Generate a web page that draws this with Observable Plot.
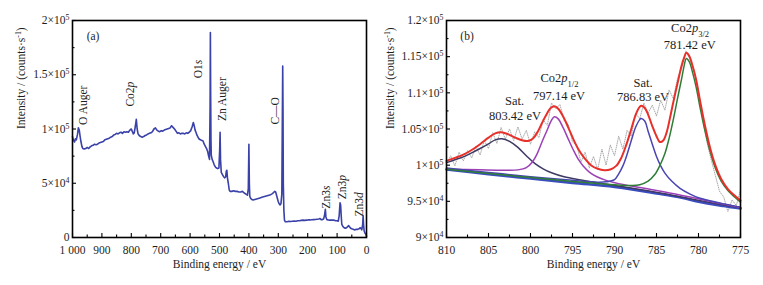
<!DOCTYPE html>
<html><head><meta charset="utf-8">
<script src="https://cdn.jsdelivr.net/npm/d3@7"></script>
<script src="https://cdn.jsdelivr.net/npm/@observablehq/plot@0.6"></script>
<style>
body{margin:0;background:#fff;}
#wrap{position:relative;width:763px;height:285px;background:#fff;overflow:hidden;}
#wrap svg{position:absolute;top:0;}
</style></head><body><div id="wrap"></div>
<script>
// ---------- Panel (a): survey spectrum ----------
const surveyBE = [1000,997,993,990,987,983,980,977,974,971,968,965,960,955,950,945,940,935,930,925,920,915,910,905,900,895,890,885,880,875,870,865,860,855,850,845,840,835,830,825,820,815,810,805,800,797,793,790,786,783,780,777,773,768,763,758,753,748,743,738,733,728,723,718,713,708,703,698,693,688,683,678,673,668,663,658,653,648,643,638,633,628,623,618,613,608,603,598,593,589,586,583,580,577,574,570,565,560,556,552,548,544,540,537,534,532,531,530,529,528,525,522,518,514,510,506,502,499.5,498,496.5,494,490,486,482,479,477,475,473,470,467,464,458,452,446,440,434,428,422,416,410,405,402,400,398.5,397,394,390,386,380,374,368,362,356,350,344,338,332,326,320,316,312,309,306,303,300,297,294,291,288,286.5,285,284,283,281,279,276,270,264,258,252,246,240,234,228,222,216,210,204,198,192,186,180,174,168,162,158,155,150,146,143,140,138,135,130,125,120,115,110,105,100,96,93,90,88,86,84,80,76,72,68,64,61,58,54,50,45,40,35,30,25,22,19,16,13,11.5,10,8,5,2,0];
const surveyI = [93000,90000,88000,91000,90000,95000,101000,99000,93000,88000,84000,82000,81500,82000,83000,82000,83500,84500,85000,86000,85500,86000,87000,87500,88000,88500,90000,90500,91000,91500,92500,93000,94500,95000,96000,95500,96500,97000,96000,97500,97000,97500,97000,99000,100000,98000,95500,96500,103000,109000,100000,95500,94000,93000,92500,93000,94000,94500,95500,96000,96500,97500,100000,101000,99000,98000,97500,98500,98000,99000,99500,100000,100500,101000,103000,101500,100000,98000,96000,96500,95500,96000,96000,95500,96500,96000,97000,98500,102000,106000,103000,99000,97000,94500,93000,91000,90000,89500,89000,86000,84000,82000,79000,75000,72000,120000,189000,130000,90000,76000,72000,70000,67000,65000,64000,63500,64000,80000,97000,72000,60000,58000,56000,55000,56000,61000,62000,55000,50000,44000,42500,42500,43000,42500,42500,42000,42000,42500,41000,40000,39000,45000,86000,50000,38000,36000,35000,34500,35000,35500,36000,36500,37000,37500,38000,38500,39000,39500,40500,41500,42500,42000,39000,36000,33000,31000,30000,31000,40000,100000,158000,120000,50000,25000,16000,14500,14500,15000,14800,15000,15200,15000,15500,15500,15800,16000,15800,16000,16200,16200,16400,16500,16600,16800,17000,17500,16500,16500,17000,20000,26000,19000,16500,16200,16000,16200,16000,16000,15500,15500,15000,20000,32000,30000,20000,12000,10000,9000,8500,9000,10000,11000,10000,8500,8000,7500,7000,7500,7500,8000,9000,8500,7000,12000,20000,12000,6000,4000,3000,1000];
const aXTicks = [1000,900,800,700,600,500,400,300,200,100,0];
const aXTickLabels = ["1 000","900","800","700","600","500","400","300","200","100","0"];
const aXMinor = [950,850,750,650,550,450,350,250,150,50];
const aYTicks = [0,50000,100000,150000,200000];
const aYTickLabels = ["0","5×10^{4}","1×10^{5}","1.5×10^{5}","2×10^{5}"];
const aYMinor = [25000,75000,125000,175000];
const aLabels = ["O Auger","Co2*p*","O1*s*","Zn Auger","C—O","Zn3*s*","Zn3*p*","Zn3*d*"];
const aLabelBE = [963,803,571,490,309.5,136,81.6,23.8];
const aLabelI = [121900,132100,155200,127500,116700,37200,46500,30500];

// ---------- Panel (b): Co2p high-resolution ----------
const rawBE = [810,809.5,809,808.5,808,807.5,807,806.5,806,805.5,805,804.5,804,803.5,803,802.5,802,801.5,801,800.5,800,799.5,799,798.5,798,797.5,797,796.5,796,795.5,795,794.5,794,793.5,793,792.5,792,791.5,791,790.5,790,789.5,789,788.5,788,787.5,787,786.5,786,785.5,785,784.5,784,783.5,783,782.5,782,781.5,781,780.5,780,779.5,779,778.5,778,777.5,777,776.5,776,775.5,775];
const rawI = [100200,101300,99900,101800,100600,102000,101000,102600,101400,103400,102300,104500,103000,105200,103600,105000,103400,105300,103600,104800,102900,104600,103800,106300,105500,108600,107800,108400,106200,105600,103200,102800,100400,101800,99600,101200,99400,102200,100000,102800,101300,104000,102200,104800,104000,107200,106400,108600,107200,108300,106800,109000,107600,110400,109200,112000,113400,115800,114600,113000,110200,106400,103200,100800,98600,96400,95600,93600,95200,94400,96600];
const background = [[810,99400],[805,98750],[800,98150],[795,97550],[790,97000],[785,96100],[782,95500],[780,94950],[777,94350],[775,94000]];
const satHigh = [[810,100350],[809,100750],[808,101150],[807,101700],[806,102300],[805,102950],[804.2,103500],[803.4,103650],[802.5,103300],[801.5,102450],[800.5,101300],[799.5,100250],[798.5,99500],[797.5,98950],[796,98400],[794,97950],[792,97550],[790,97200],[787,96650],[784,96050],[781,95350],[778,94700],[775,94100]];
const p12 = [[810,99450],[806,99350],[803,99300],[801.5,99350],[800.5,99650],[799.8,100400],[799.2,101600],[798.6,103300],[798,104900],[797.6,106000],[797.15,106700],[796.7,106400],[796.1,105150],[795.5,103600],[794.9,102100],[794.3,100800],[793.7,99850],[793,99050],[792.1,98400],[791,97900],[789.5,97450],[787,96900],[784,96300],[781,95600],[778,94850],[775,94150]];
const satLow = [[810,99600],[805,99000],[800,98400],[795,97900],[792,97650],[791,97700],[790,98000],[789.5,98800],[789,99900],[788.5,101500],[788,103400],[787.5,105200],[787,106300],[786.85,106450],[786.4,106100],[786,104700],[785.5,102900],[785,101200],[784.5,99900],[784,98900],[783.2,97800],[782.2,96800],[781,96000],[780,95500],[778.5,95050],[777,94650],[775,94200]];
const p32 = [[810,99450],[805,98850],[800,98300],[795,97750],[790,97300],[788,97200],[787,97300],[786,97800],[785.2,98700],[784.5,100200],[784,101600],[783.5,103700],[783,106300],[782.5,109200],[782,112000],[781.7,113800],[781.45,114750],[781.1,114300],[780.7,112800],[780.3,110900],[779.8,107900],[779.2,104600],[778.6,101800],[778,99600],[777.3,97800],[776.5,96500],[775.7,95600],[775,94900]];
const envelope = [[810,100600],[809,101000],[808,101450],[807,102100],[806,102900],[805,103800],[804.2,104400],[803.5,104550],[802.7,104300],[801.8,103800],[800.9,103400],[800.3,103350],[799.7,103700],[799.2,104500],[798.6,105900],[798,107200],[797.6,107900],[797.15,108150],[796.7,107800],[796.1,106700],[795.5,105200],[794.9,103600],[794.3,102200],[793.6,101000],[792.8,100000],[792,99500],[791.2,99300],[790.5,99400],[789.8,99900],[789.2,101000],[788.6,102800],[788,105000],[787.5,106900],[787,108050],[786.8,108200],[786.4,107900],[786,107000],[785.5,105400],[785,104000],[784.6,103200],[784.2,103400],[783.8,104500],[783.4,106500],[783,108700],[782.5,111300],[782,113800],[781.7,114900],[781.45,115550],[781.1,115100],[780.7,113700],[780.3,111900],[779.8,108800],[779.2,105300],[778.6,102300],[778,100000],[777.3,98100],[776.5,96700],[775.7,95800],[775,95100]];
const bXTicks = [810,805,800,795,790,785,780,775];
const bXTickLabels = ["810","805","800","795","790","785","780","775"];
const bXMinor = [807.5,802.5,797.5,792.5,787.5,782.5,777.5];
const bYTicks = [90000,95000,100000,105000,110000,115000,120000];
const bYTickLabels = ["9×10^{4}","9.5×10^{4}","1×10^{5}","1.05×10^{5}","1.1×10^{5}","1.15×10^{5}","1.2×10^{5}"];
const bYMinor = [92500,97500,102500,107500,112500,117500];
const bLabels = ["Sat.","803.42 eV","Co2*p*_{1/2}","797.14 eV","Sat.","786.83 eV","Co2*p*_{3/2}","781.42 eV"];
const bLabelBE = [801.9,801.85,796.55,796.6,786.6,786.6,781.0,781.05];
const bLabelI = [108900,106850,112000,109600,111300,109400,118900,116600];

const xTitle = "Binding energy / eV";
const yTitle = "Intensity / (counts·s^{-1})";

// ---------- helpers ----------
const FONT = "Liberation Serif, Times New Roman, serif";
const H = 285, MT = 20, MB = 48;
const innerH = H - MT - MB;
const TXT = {fontFamily: FONT, fill: "#1e1e1e"};

function rich(s) {
  return s.replace(/\*([^*]+)\*/g, '<tspan font-style="italic">$1</tspan>')
    .replace(/\^\{([^}]+)\}/g, '<tspan baseline-shift="super" font-size="68%">$1</tspan>')
    .replace(/_\{([^}]+)\}/g, '<tspan baseline-shift="sub" font-size="68%">$1</tspan>');
}
function richify(svg) {
  d3.select(svg).selectAll("text").each(function () {
    const t = this.textContent;
    if (/[*^_]/.test(t)) this.innerHTML = rich(t);
  });
}

function axesMarks(o) {
  const innerW = o.width - o.ml - o.mr;
  return [
    Plot.tickX(o.xMajor, {x: d => d, insetTop: innerH - 4, stroke: "#000", strokeWidth: 1.1}),
    Plot.tickX(o.xMinor, {x: d => d, insetTop: innerH - 2.5, stroke: "#000", strokeWidth: 1.1}),
    Plot.tickY(o.yMajor, {y: d => d, insetRight: innerW - 4, stroke: "#000", strokeWidth: 1.1}),
    Plot.tickY(o.yMinor, {y: d => d, insetRight: innerW - 2.5, stroke: "#000", strokeWidth: 1.1}),
    Plot.text(o.xMajor, {x: d => d, text: (d, i) => o.xLabels[i], frameAnchor: "bottom", dy: 12.5, lineAnchor: "middle", fontSize: 11.5, ...TXT}),
    Plot.text(o.yMajor, {y: d => d, text: (d, i) => o.yLabels[i], frameAnchor: "left", dx: -3, textAnchor: "end", lineAnchor: "middle", fontSize: 11.5, ...TXT}),
    Plot.text([xTitle], {text: d => d, frameAnchor: "bottom", dy: 26.5, lineAnchor: "middle", fontSize: 11.5, ...TXT}),
    Plot.text([yTitle], {text: d => d, frameAnchor: "left", rotate: -90, dx: o.yTitleDx, lineAnchor: "middle", fontSize: 11.5, ...TXT}),
    Plot.text([o.tag], {text: d => d, frameAnchor: "top-left", dx: 20.5, dy: 15.5, textAnchor: "middle", lineAnchor: "middle", fontSize: 11.5, ...TXT}),
    Plot.frame({stroke: "#000", strokeWidth: 1.6})
  ];
}

// ---------- Panel (a) ----------
const aIdx = d3.range(surveyBE.length);
const plotA = Plot.plot({
  width: 380, height: H, marginLeft: 72, marginRight: 14, marginTop: MT, marginBottom: MB,
  style: {fontFamily: FONT, background: "transparent"},
  x: {domain: [1000, 0], axis: null},
  y: {domain: [0, 200000], axis: null},
  marks: [
    Plot.line(aIdx, {x: i => surveyBE[i], y: i => surveyI[i], stroke: "#3a41a8", strokeWidth: 1.6}),
    Plot.text(aLabels, {x: (d, i) => aLabelBE[i], y: (d, i) => aLabelI[i], text: d => d, rotate: -90, textAnchor: "middle", lineAnchor: "middle", fontSize: 11.5, ...TXT}),
    ...axesMarks({width: 380, ml: 72, mr: 14, xMajor: aXTicks, xMinor: aXMinor, xLabels: aXTickLabels,
      yMajor: aYTicks, yMinor: aYMinor, yLabels: aYTickLabels, yTitleDx: -51, tag: "(a)"})
  ]
});

// ---------- Panel (b) ----------
const rIdx = d3.range(rawBE.length);
const comp = (arr, color, w) => Plot.line(arr, {x: d => d[0], y: d => d[1], stroke: color, strokeWidth: w, curve: "catmull-rom"});
const plotB = Plot.plot({
  width: 383, height: H, marginLeft: 66, marginRight: 23, marginTop: MT, marginBottom: MB,
  style: {fontFamily: FONT, background: "transparent"},
  x: {domain: [810, 775], axis: null},
  y: {domain: [90000, 120000], axis: null},
  marks: [
    Plot.line(rIdx, {x: i => rawBE[i], y: i => rawI[i], stroke: "#a8a8a8", strokeWidth: 1, strokeDasharray: "0.8,1.4"}),
    comp(background, "#3a4cc0", 2.6),
    comp(satHigh, "#3d3a63", 1.5),
    comp(p12, "#9c40b6", 1.5),
    comp(satLow, "#4a45b2", 1.5),
    comp(p32, "#2e7d36", 1.5),
    comp(envelope, "#e8302b", 2),
    Plot.text(bLabels, {x: (d, i) => bLabelBE[i], y: (d, i) => bLabelI[i], text: d => d, textAnchor: "middle", lineAnchor: "middle", fontSize: 12.5, ...TXT}),
    ...axesMarks({width: 383, ml: 66, mr: 23, xMajor: bXTicks, xMinor: bXMinor, xLabels: bXTickLabels,
      yMajor: bYTicks, yMinor: bYMinor, yLabels: bYTickLabels, yTitleDx: -56, tag: "(b)"})
  ]
});

richify(plotA); richify(plotB);
plotA.style.left = "0px";
plotB.style.left = "380px";
const wrap = document.getElementById("wrap");
wrap.appendChild(plotA);
wrap.appendChild(plotB);
</script>
</body></html>
